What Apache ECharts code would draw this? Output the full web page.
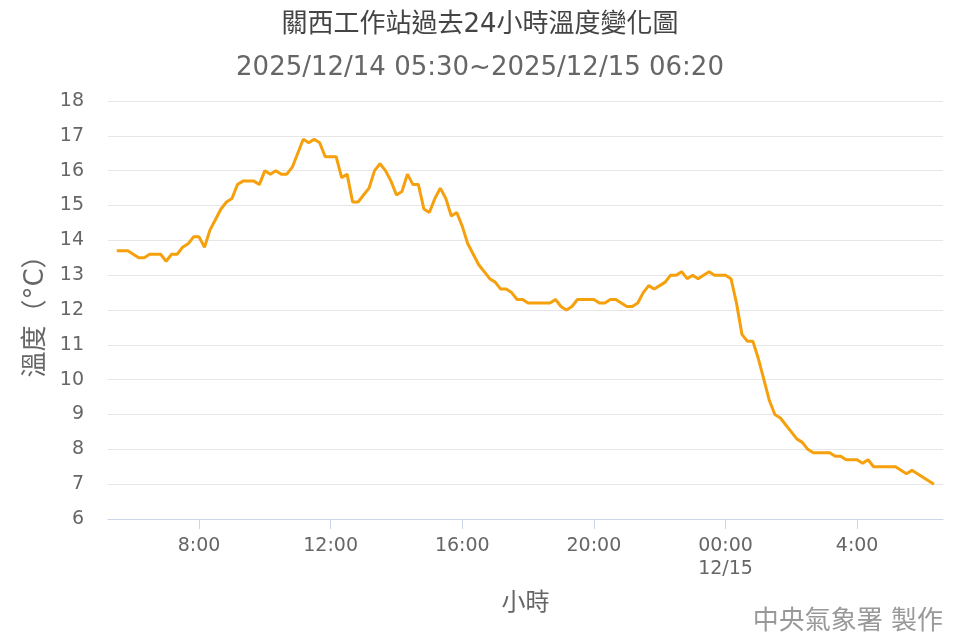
<!DOCTYPE html>
<html>
<head>
<meta charset="utf-8">
<script src="https://cdn.jsdelivr.net/npm/echarts@6/dist/echarts.min.js"></script>
<style>
html,body{margin:0;padding:0;background:#fff;}
#c{width:960px;height:640px;}
</style>
</head>
<body>
<div id="c"></div>
<script>
// Data: temperature every 10 minutes from 2025/12/14 05:30 to 2025/12/15 06:20
const startHour = 5.5;          // 05:30 on 12/14, in hours since 12/14 00:00
const stepMinutes = 10;
const temps = [
  13.7,13.7,13.7,13.6,13.5,13.5,13.6,13.6,13.6,13.4,
  13.6,13.6,13.8,13.9,14.1,14.1,13.8,14.3,14.6,14.9,
  15.1,15.2,15.6,15.7,15.7,15.7,15.6,16.0,15.9,16.0,
  15.9,15.9,16.1,16.5,16.9,16.8,16.9,16.8,16.4,16.4,
  16.4,15.8,15.9,15.1,15.1,15.3,15.5,16.0,16.2,16.0,
  15.7,15.3,15.4,15.9,15.6,15.6,14.9,14.8,15.2,15.5,
  15.2,14.7,14.8,14.4,13.9,13.6,13.3,13.1,12.9,12.8,
  12.6,12.6,12.5,12.3,12.3,12.2,12.2,12.2,12.2,12.2,
  12.3,12.1,12.0,12.1,12.3,12.3,12.3,12.3,12.2,12.2,
  12.3,12.3,12.2,12.1,12.1,12.2,12.5,12.7,12.6,12.7,
  12.8,13.0,13.0,13.1,12.9,13.0,12.9,13.0,13.1,13.0,
  13.0,13.0,12.9,12.2,11.3,11.1,11.1,10.6,10.0,9.4,
  9.0,8.9,8.7,8.5,8.3,8.2,8.0,7.9,7.9,7.9,
  7.9,7.8,7.8,7.7,7.7,7.7,7.6,7.7,7.5,7.5,
  7.5,7.5,7.5,7.4,7.3,7.4,7.3,7.2,7.1,7.0
];
const xTicks = [8, 12, 16, 20, 24, 28];
const xTickLabels = ['8:00', '12:00', '16:00', '20:00', '00:00\n12/15', '4:00'];
const yTicks = [6, 18, 1]; // min, max, interval
const titleText = '關西工作站過去24小時溫度變化圖';
const subtitleText = '2025/12/14 05:30~2025/12/15 06:20';
const yName = '溫度（°C）';
const xName = '小時';
const creditText = '中央氣象署 製作';

const seriesData = temps.map((t, i) => [startHour + i * stepMinutes / 60, t]);

const font = '"DejaVu Sans", "Noto Sans CJK TC", sans-serif';
const chart = echarts.init(document.getElementById('c'), null, {renderer: 'canvas'});
chart.setOption({
  backgroundColor: '#ffffff',
  animation: false,
  title: [
    {text: titleText, left: 'center', top: 7,
     textStyle: {fontFamily: font, fontSize: 26, fontWeight: 'normal', color: '#444444'}},
    {text: subtitleText, left: 'center', top: 50,
     textStyle: {fontFamily: font, fontSize: 26, fontWeight: 'normal', color: '#666666'}}
  ],
  grid: {left: 108, right: 17, top: 101, bottom: 121, containLabel: false},
  xAxis: {
    type: 'value',
    min: 5.233,
    max: 30.61,
    name: xName,
    nameLocation: 'middle',
    nameGap: 73,
    nameTextStyle: {fontFamily: font, fontSize: 24, color: '#666666'},
    axisLine: {show: true, lineStyle: {color: '#ccd6eb', width: 1}},
    axisTick: {show: true, customValues: xTicks, length: 10, lineStyle: {color: '#ccd6eb'}},
    axisLabel: {
      customValues: xTicks,
      fontFamily: font, fontSize: 19, color: '#666666', margin: 16, lineHeight: 23,
      verticalAlign: 'top',
      formatter: v => {
        const idx = xTicks.indexOf(Math.round(v));
        return idx >= 0 ? xTickLabels[idx] : '';
      }
    },
    splitLine: {show: false}
  },
  yAxis: {
    type: 'value',
    min: yTicks[0], max: yTicks[1], interval: yTicks[2],
    name: yName,
    nameLocation: 'middle',
    nameGap: 57,
    nameRotate: 90,
    nameTextStyle: {fontFamily: font, fontSize: 26, color: '#666666'},
    axisLine: {show: false},
    axisTick: {show: false},
    axisLabel: {fontFamily: font, fontSize: 19, color: '#666666', margin: 24},
    splitLine: {lineStyle: {color: '#e6e6e6', width: 1}}
  },
  series: [{
    type: 'line',
    data: seriesData,
    showSymbol: false,
    smooth: false,
    lineStyle: {color: '#f5a00c', width: 3},
    itemStyle: {color: '#f5a00c'}
  }],
  graphic: [{
    type: 'text',
    right: 17,
    bottom: 5,
    style: {text: creditText, fontFamily: font, fontSize: 26, fill: '#999999'}
  }]
});
</script>
</body>
</html>
